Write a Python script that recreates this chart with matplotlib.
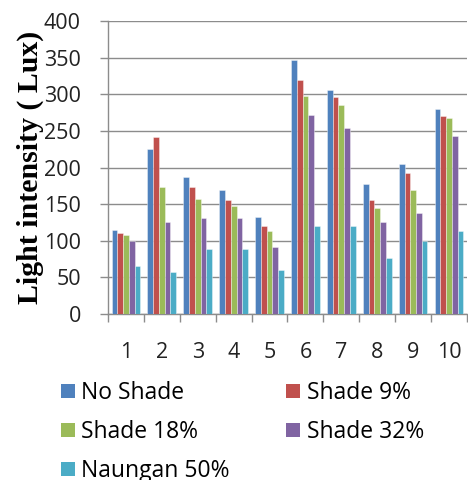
import numpy as np
import matplotlib
matplotlib.use("Agg")
from matplotlib import pyplot as plt
from matplotlib.patches import Patch

days = ["1", "2", "3", "4", "5", "6", "7", "8", "9", "10"]

no_shade = [115, 226, 187, 169, 132, 347, 306, 178, 205, 280]
shade_9 = [110, 242, 173, 156, 120, 319, 296, 156, 192, 270]
shade_18 = [108, 173, 157, 147, 113, 298, 286, 145, 169, 268]
shade_32 = [100, 126, 131, 131, 92, 272, 254, 126, 138, 243]
naungan_50 = [66, 57, 89, 89, 60, 120, 120, 76, 100, 113]

series = [no_shade, shade_9, shade_18, shade_32, naungan_50]
labels = ["No Shade", "Shade 9%", "Shade 18%", "Shade 32%", "Naungan 50%"]
colors = ["#4F81BD", "#C0504D", "#9BBB59", "#8064A2", "#4BACC6"]

tick_font = "Open Sans"

fig = plt.figure(figsize=(4.68, 4.8), dpi=100)
ax = fig.add_axes([0.2308, 0.3458, 0.767, 0.6102])

x = np.arange(len(days))
width = 0.16
for i, (values, color) in enumerate(zip(series, colors)):
    ax.bar(x + (i - 2) * width, values, width=width, color=color,
           edgecolor=(1, 1, 1, 0.45), linewidth=0.6, zorder=3)

ax.set_xlim(-0.5, len(days) - 0.5)
ax.set_ylim(0, 400)
ax.set_yticks(range(0, 401, 50))
ax.yaxis.grid(True, color="#8c8c8c", linewidth=1.0, zorder=0)

# category labels in the middle, tick marks between groups
ax.set_xticks(x)
ax.set_xticklabels(days)
ax.set_xticks(np.arange(-0.5, len(days), 1.0), minor=True)
ax.tick_params(axis="x", which="major", length=0, pad=20)
ax.tick_params(axis="x", which="minor", length=6, width=1, color="#8c8c8c",
               direction="out")
ax.tick_params(axis="y", length=5.5, width=1, color="#8c8c8c", pad=14)
for lab in ax.get_xticklabels() + ax.get_yticklabels():
    lab.set_fontfamily(tick_font)
    lab.set_fontsize(15.5)
    lab.set_color("#222222")

for side in ["top", "right"]:
    ax.spines[side].set_visible(False)
for side in ["left", "bottom"]:
    ax.spines[side].set_color("#8c8c8c")
    ax.spines[side].set_linewidth(1.0)

ax.set_ylabel("Light intensity ( Lux)", fontfamily="Liberation Serif",
              fontweight="bold", fontsize=21.5, labelpad=0)

# legend rows go left-to-right, so feed the columns in that order
order = [0, 2, 4, 1, 3]
handles = [Patch(facecolor=colors[i], edgecolor="none") for i in order]
fig.legend(handles, [labels[i] for i in order], ncol=2, frameon=False,
           loc="upper left", bbox_to_anchor=(0.130, 0.206),
           prop={"family": tick_font, "size": 16.5},
           handlelength=0.6, handleheight=0.6, handletextpad=0.3,
           columnspacing=2.45, labelspacing=0.65, borderpad=0,
           borderaxespad=0)

fig.savefig("out.png", dpi=100)
